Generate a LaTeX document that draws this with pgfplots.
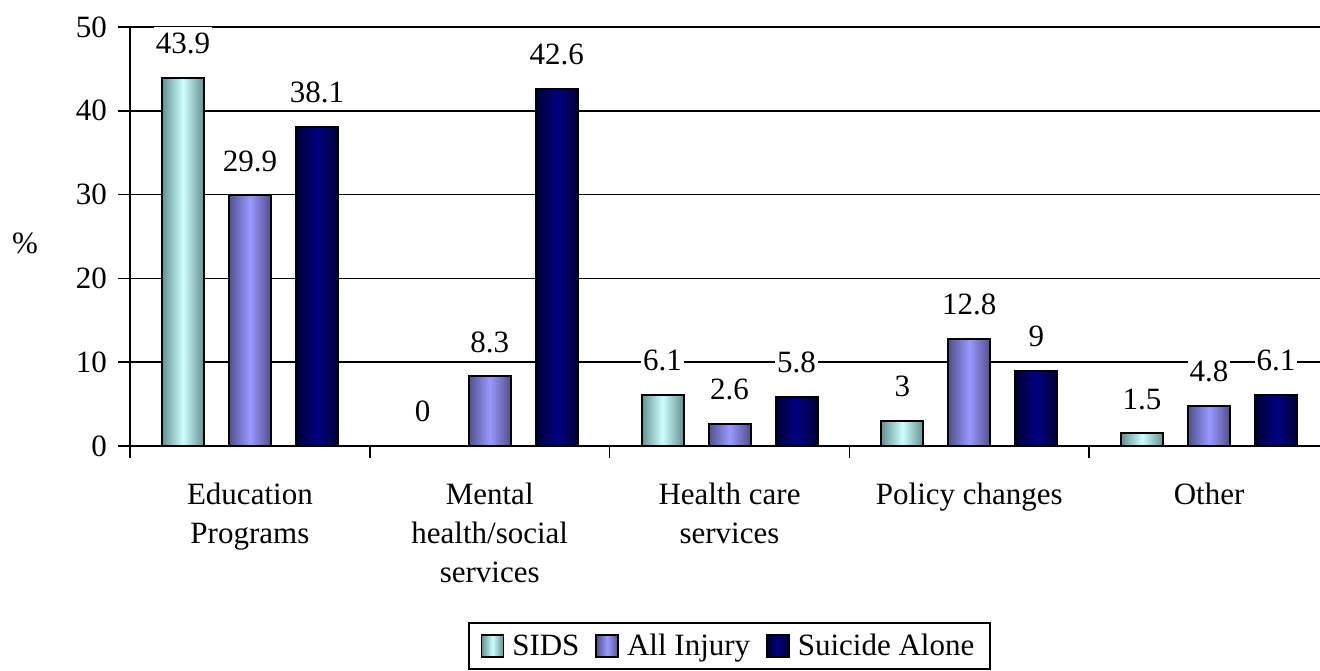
\documentclass[border=0pt]{standalone}
\usepackage{fontspec}
\setmainfont{Liberation Serif}
\usepackage{pgfplots}
\pgfplotsset{compat=1.18}
\usetikzlibrary{calc}

\definecolor{sidsmid}{RGB}{204,255,255}
\definecolor{sidsedge}{RGB}{100,145,145}
\definecolor{injmid}{RGB}{153,153,255}
\definecolor{injedge}{RGB}{80,80,140}
\definecolor{suimid}{RGB}{0,0,128}
\definecolor{suiedge}{RGB}{0,0,55}

\newcommand\chartfont{\fontsize{15.5}{19.5}\selectfont}

% Each bar is its own plot so that the cylinder-like shading runs across one bar only.
\pgfplotsset{
  /pgf/number format/assume math mode=true,
  barborder/.style={draw=black, line width=1pt},
  sids/.style={barborder, left color=sidsedge, right color=sidsedge, middle color=sidsmid, bar shift=-33.5pt},
  inj/.style={barborder, left color=injedge, right color=injedge, middle color=injmid, bar shift=0pt},
  sui/.style={barborder, left color=suiedge, right color=suiedge, middle color=suimid, bar shift=33.5pt},
}

\begin{document}
\begin{tikzpicture}
\begin{axis}[
  name=ax,
  scale only axis,
  width=599.5pt, height=209.5pt,
  xmin=-0.5, xmax=4.5, ymin=0, ymax=50,
  axis x line*=bottom, axis y line*=left,
  axis line style={-, black, line width=0.8pt},
  ytick={0,10,...,50},
  ymajorgrids,
  grid style={black, line width=0.8pt},
  tick align=outside, major tick length=6pt,
  tick style={black, line width=0.8pt},
  tick label style={font=\chartfont},
  yticklabel style={xshift=-2pt},
  xtick={-0.5,0.5,1.5,2.5,3.5,4.5},
  xticklabels={},
  extra x ticks={0,1,2,3,4},
  extra x tick labels={Education\\Programs, Mental\\health/social\\services, Health care\\services, Policy changes, Other},
  extra x tick style={major tick length=0pt, tick label style={align=center, yshift=-15pt}},
  ylabel={\%},
  ylabel style={rotate=-90, at={(axis description cs:-0.0876,0.4845)}, anchor=center, font=\chartfont},
  ybar, bar width=21pt,
  nodes near coords,
  every node near coord/.append style={font=\chartfont, text=black, fill=white, inner xsep=1pt, inner ysep=3pt, yshift=8.5pt},
  legend columns=-1,
  legend image code/.code={\draw[#1, line width=0.8pt] (0pt,-5.5pt) rectangle (11pt,5.5pt);},
  legend style={at={(axis description cs:0.5,-0.42)}, anchor=north, draw=black, line width=1pt,
    font=\chartfont, inner xsep=6pt, inner ysep=3.5pt,
    /tikz/every odd column/.append style={column sep=2pt},
    /tikz/every even column/.append style={column sep=6pt}},
]
% first bar of each series carries the legend entry
\addplot[sids] coordinates {(0,43.9)};
\addplot[inj]  coordinates {(0,29.9)};
\addplot[sui]  coordinates {(0,38.1)};
% SIDS
\addplot[sids, forget plot] coordinates {(1,0)};
\addplot[sids, forget plot] coordinates {(2,6.1)};
\addplot[sids, forget plot] coordinates {(3,3)};
\addplot[sids, forget plot] coordinates {(4,1.5)};
% All Injury
\addplot[inj, forget plot] coordinates {(1,8.3)};
\addplot[inj, forget plot] coordinates {(2,2.6)};
\addplot[inj, forget plot] coordinates {(3,12.8)};
\addplot[inj, forget plot] coordinates {(4,4.8)};
% Suicide Alone
\addplot[sui, forget plot] coordinates {(1,42.6)};
\addplot[sui, forget plot] coordinates {(2,5.8)};
\addplot[sui, forget plot] coordinates {(3,9)};
\addplot[sui, forget plot] coordinates {(4,6.1)};
\legend{SIDS, All Injury, Suicide Alone}
\end{axis}
\pgfresetboundingbox
\path[use as bounding box] ($(ax.south west)+(-65pt,-112pt)$) rectangle ($(ax.south west)+(595pt,223pt)$);
\end{tikzpicture}
\end{document}
